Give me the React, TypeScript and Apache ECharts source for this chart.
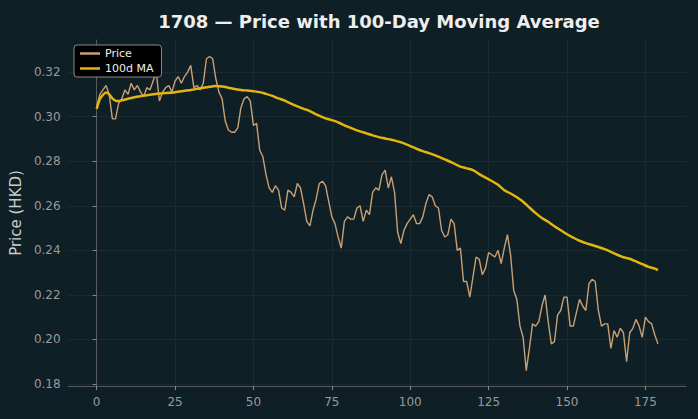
import React, { useEffect, useRef } from "react";
import * as echarts from "echarts";

const TITLE = "1708 — Price with 100-Day Moving Average";
const Y_LABEL = "Price (HKD)";
const X_TICKS = [0, 25, 50, 75, 100, 125, 150, 175];
const Y_TICKS = [0.18, 0.2, 0.22, 0.24, 0.26, 0.28, 0.3, 0.32];

const PRICE = [
  0.3043, 0.310, 0.312, 0.314, 0.310, 0.299, 0.299, 0.306, 0.308, 0.312,
  0.310, 0.315, 0.312, 0.314, 0.311, 0.309, 0.313, 0.312, 0.316, 0.320,
  0.307, 0.311, 0.313, 0.314, 0.311, 0.316, 0.318, 0.315, 0.318, 0.320,
  0.323, 0.313, 0.314, 0.312, 0.315, 0.326, 0.327, 0.326, 0.317, 0.311,
  0.308, 0.298, 0.294, 0.293, 0.293, 0.295, 0.304, 0.308, 0.309, 0.307,
  0.296, 0.297, 0.285, 0.282, 0.274, 0.268, 0.266, 0.269, 0.267, 0.259,
  0.258, 0.267, 0.266, 0.264, 0.270, 0.268, 0.261, 0.253, 0.251, 0.258,
  0.263, 0.270, 0.271, 0.269, 0.262, 0.255, 0.252, 0.246, 0.241, 0.253,
  0.255, 0.254, 0.254, 0.259, 0.260, 0.253, 0.258, 0.256, 0.266, 0.268,
  0.267, 0.274, 0.276, 0.268, 0.273, 0.266, 0.248, 0.243, 0.249, 0.252,
  0.254, 0.256, 0.252, 0.252, 0.255, 0.261, 0.265, 0.264, 0.260, 0.259,
  0.249, 0.246, 0.247, 0.254, 0.252, 0.240, 0.241, 0.226, 0.226, 0.219,
  0.228, 0.237, 0.236, 0.229, 0.232, 0.239, 0.238, 0.237, 0.240, 0.234,
  0.241, 0.247, 0.238, 0.222, 0.218, 0.206, 0.201, 0.186, 0.196, 0.207,
  0.206, 0.208, 0.215, 0.220, 0.208, 0.198, 0.199, 0.211, 0.213, 0.219,
  0.219, 0.206, 0.206, 0.212, 0.218, 0.215, 0.213, 0.225, 0.227, 0.226,
  0.213, 0.206, 0.207, 0.207, 0.196, 0.204, 0.201, 0.205, 0.203, 0.190,
  0.203, 0.205, 0.209, 0.206, 0.201, 0.210, 0.208, 0.207, 0.202, 0.198,
];

const MA_X = [
  0, 1, 2, 3, 4, 5, 6, 7, 8, 10, 12, 14, 16, 18, 20, 22, 25, 28, 30, 33,
  36, 38, 40, 42, 44, 46, 48, 50, 52, 54, 56, 58, 60, 62, 64, 66, 68, 70,
  72, 74, 76, 78, 80, 82, 84, 86, 88, 90, 92, 94, 96, 98, 100, 102, 104,
  106, 108, 110, 112, 114, 116, 118, 120, 122, 124, 126, 128, 130, 132,
  134, 136, 138, 140, 142, 144, 146, 148, 150, 152, 154, 156, 158, 160,
  162, 164, 166, 168, 170, 172, 174, 176, 178, 179,
];
const MA_Y = [
  0.3035, 0.3078, 0.3098, 0.3108, 0.31, 0.3082, 0.3072, 0.307, 0.3073, 0.308,
  0.3087, 0.3092, 0.3096, 0.31, 0.3104, 0.3106, 0.311, 0.3116, 0.312, 0.3127,
  0.3134, 0.3137, 0.3135, 0.313, 0.3124, 0.312, 0.3117, 0.3114, 0.311, 0.3102,
  0.3093, 0.3082, 0.3072, 0.3058, 0.3046, 0.3035, 0.3025, 0.301, 0.2998,
  0.2988, 0.298, 0.2968, 0.2955, 0.2944, 0.2934, 0.2925, 0.2916, 0.2908,
  0.2902, 0.2896, 0.2889, 0.288, 0.2868, 0.2856, 0.2845, 0.2836, 0.2826,
  0.2814, 0.2802, 0.2789, 0.2776, 0.2768, 0.276, 0.2742, 0.2726, 0.2711,
  0.2694, 0.267, 0.2655, 0.2638, 0.2618, 0.2592, 0.2567, 0.2545, 0.2528,
  0.2508, 0.249, 0.2472, 0.2457, 0.2443, 0.2432, 0.2424, 0.2415, 0.2405,
  0.2393, 0.2380, 0.2369, 0.2362, 0.2350, 0.2338, 0.2326, 0.2318, 0.2311,
];

const BG = "#0f1f26";
const GRID = "#1a2a31";
const AXIS = "#555b5e";
const TICK_TXT = "#9a9a9a";
const PRICE_COLOR = "#c9a073";
const MA_COLOR = "#e3b50f";

export default function App() {
  const ref = useRef<HTMLDivElement>(null);
  useEffect(() => {
    if (!ref.current) return;
    const chart = echarts.init(ref.current, undefined, { renderer: "svg" });
    const font = "DejaVu Sans";
    chart.setOption({
      animation: false,
      backgroundColor: BG,
      textStyle: { fontFamily: font },
      title: {
        text: TITLE,
        left: 374,
        textAlign: "center",
        top: 7,
        textStyle: { color: "#eeeeee", fontSize: 18, fontWeight: "bold", fontFamily: font },
      },
      legend: {
        left: 74,
        top: 45,
        orient: "vertical",
        backgroundColor: "#000000",
        borderColor: "#8a8a8a",
        borderWidth: 1,
        borderRadius: 3,
        padding: [3, 8, 3, 6],
        itemGap: 4,
        itemWidth: 20,
        itemHeight: 2.5,
        icon: "rect",
        textStyle: { color: "#eeeeee", fontSize: 11, fontFamily: font },
        data: ["Price", "100d MA"],
      },
      grid: { left: 68, right: 12, top: 40, bottom: 33, containLabel: false },
      xAxis: {
        type: "value",
        min: -8.95,
        max: 187.95,
        axisLine: { show: true, lineStyle: { color: AXIS, width: 1 } },
        axisTick: { show: true, customValues: X_TICKS, length: 4, lineStyle: { color: "#8a8a8a" } },
        axisLabel: { customValues: X_TICKS, color: TICK_TXT, fontSize: 12, margin: 10, fontFamily: font },
        splitLine: { show: true, lineStyle: { color: GRID, width: 1 } },
      },
      yAxis: {
        type: "value",
        min: 0.1791,
        max: 0.3344,
        name: Y_LABEL,
        nameLocation: "middle",
        nameGap: 44,
        nameTextStyle: { color: "#cccccc", fontSize: 15, fontFamily: font },
        axisLine: { show: true, lineStyle: { color: AXIS, width: 1 } },
        axisTick: { show: true, customValues: Y_TICKS, length: 4, lineStyle: { color: "#8a8a8a" } },
        axisLabel: {
          customValues: Y_TICKS,
          color: TICK_TXT,
          fontSize: 12,
          margin: 8,
          fontFamily: font,
          formatter: (v: number) => v.toFixed(2),
        },
        splitLine: { show: true, lineStyle: { color: GRID, width: 1 } },
      },
      series: [
        {
          name: "Price",
          type: "line",
          data: PRICE.map((v, i) => [i, v]),
          symbol: "none",
          lineStyle: { color: PRICE_COLOR, width: 1.4 },
          itemStyle: { color: PRICE_COLOR },
          z: 2,
        },
        {
          name: "100d MA",
          type: "line",
          data: MA_X.map((x, i) => [x, MA_Y[i]]),
          symbol: "none",
          smooth: 0.3,
          lineStyle: { color: MA_COLOR, width: 2.5 },
          itemStyle: { color: MA_COLOR },
          z: 3,
        },
      ],
    });
    return () => chart.dispose();
  }, []);
  return <div ref={ref} style={{ width: 698, height: 419, position: "absolute", left: 0, top: 0 }} />;
}
